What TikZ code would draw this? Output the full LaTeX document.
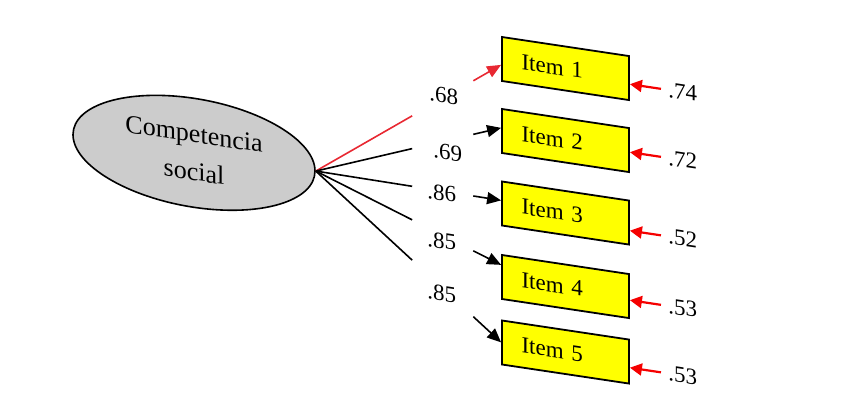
\documentclass[tikz,border=0pt]{standalone}
\usepackage{fontspec}
\setmainfont{Liberation Serif}
\usepackage{xcolor}
\usetikzlibrary{positioning, arrows.meta, shapes.geometric, calc}

\definecolor{boxyellow}{RGB}{255,255,0}
\definecolor{latentgray}{RGB}{204,204,204}
\definecolor{loadred}{RGB}{232,40,50}
\definecolor{errred}{RGB}{245,0,0}

\tikzset{
  item/.style={draw=black, line width=0.9pt, fill=boxyellow, minimum width=63.5pt,
    minimum height=22pt, text width=44pt, inner xsep=9pt, align=left,
    font=\fontsize{11.5}{13}\selectfont},
  latent/.style={ellipse, draw=black, line width=0.8pt, fill=latentgray,
    minimum width=121pt, minimum height=54.5pt, inner sep=0pt, align=center,
    font=\fontsize{13}{19}\selectfont},
  num/.style={font=\fontsize{11.5}{13}\selectfont, inner sep=1pt},
  load/.style={line width=0.8pt},
  tip/.style={-{Triangle[length=7pt,width=6pt]}},
  err/.style={errred, line width=1.1pt, -{Triangle[length=6pt,width=6pt]}, shorten <=2.5pt}
}

\begin{document}
\begin{tikzpicture}[x=0.5pt, y=0.5pt]
\useasboundingbox (0,0) rectangle (844,398);
\begin{scope}[shift={(502,0)}, yslant=-0.15, transform shape]
  % latent factor and indicators
  \node[latent] (comp) at (-308,199) {Competencia\\social};
  \node[item] (it1) at (63.5,339) {Item 1};
  \node[item] (it2) at (63.5,267) {Item 2};
  \node[item] (it3) at (63.5,194.5) {Item 3};
  \node[item] (it4) at (63.5,121) {Item 4};
  \node[item] (it5) at (63.5,55.5) {Item 5};

  % loadings
  \foreach \n/\v/\d/\s/\x/\c in {1/.68/-3pt/2pt/1pt/loadred, 2/.69/1.5pt/-5pt/3pt/black,
      3/.86/1.5pt/-1pt/0pt/black, 4/.85/6pt/-3pt/0pt/black, 5/.85/0pt/-3pt/0pt/black}{
    \coordinate (t\n) at ([yshift=\d]it\n.west);
    \draw[load, \c] (comp.east) -- ($(comp.east)!0.52!(t\n)$);
    \draw[load, tip, \c] ($(comp.east)!0.85!(t\n)$) -- (t\n);
    \path (comp.east) -- node[num, pos=0.68, yshift=\s, xshift=\x] {\v} (t\n);
  }

  % residuals
  \foreach \n/\v/\d in {1/.74/-3pt, 2/.72/-1pt, 3/.52/-4pt, 4/.53/-2pt, 5/.53/-3pt}{
    \node[num, right=18pt of it\n.east, yshift=\d] (r\n) {\v};
    \draw[err] (r\n.west) -- ([yshift=\d]it\n.east);
  }
\end{scope}
\end{tikzpicture}
\end{document}
